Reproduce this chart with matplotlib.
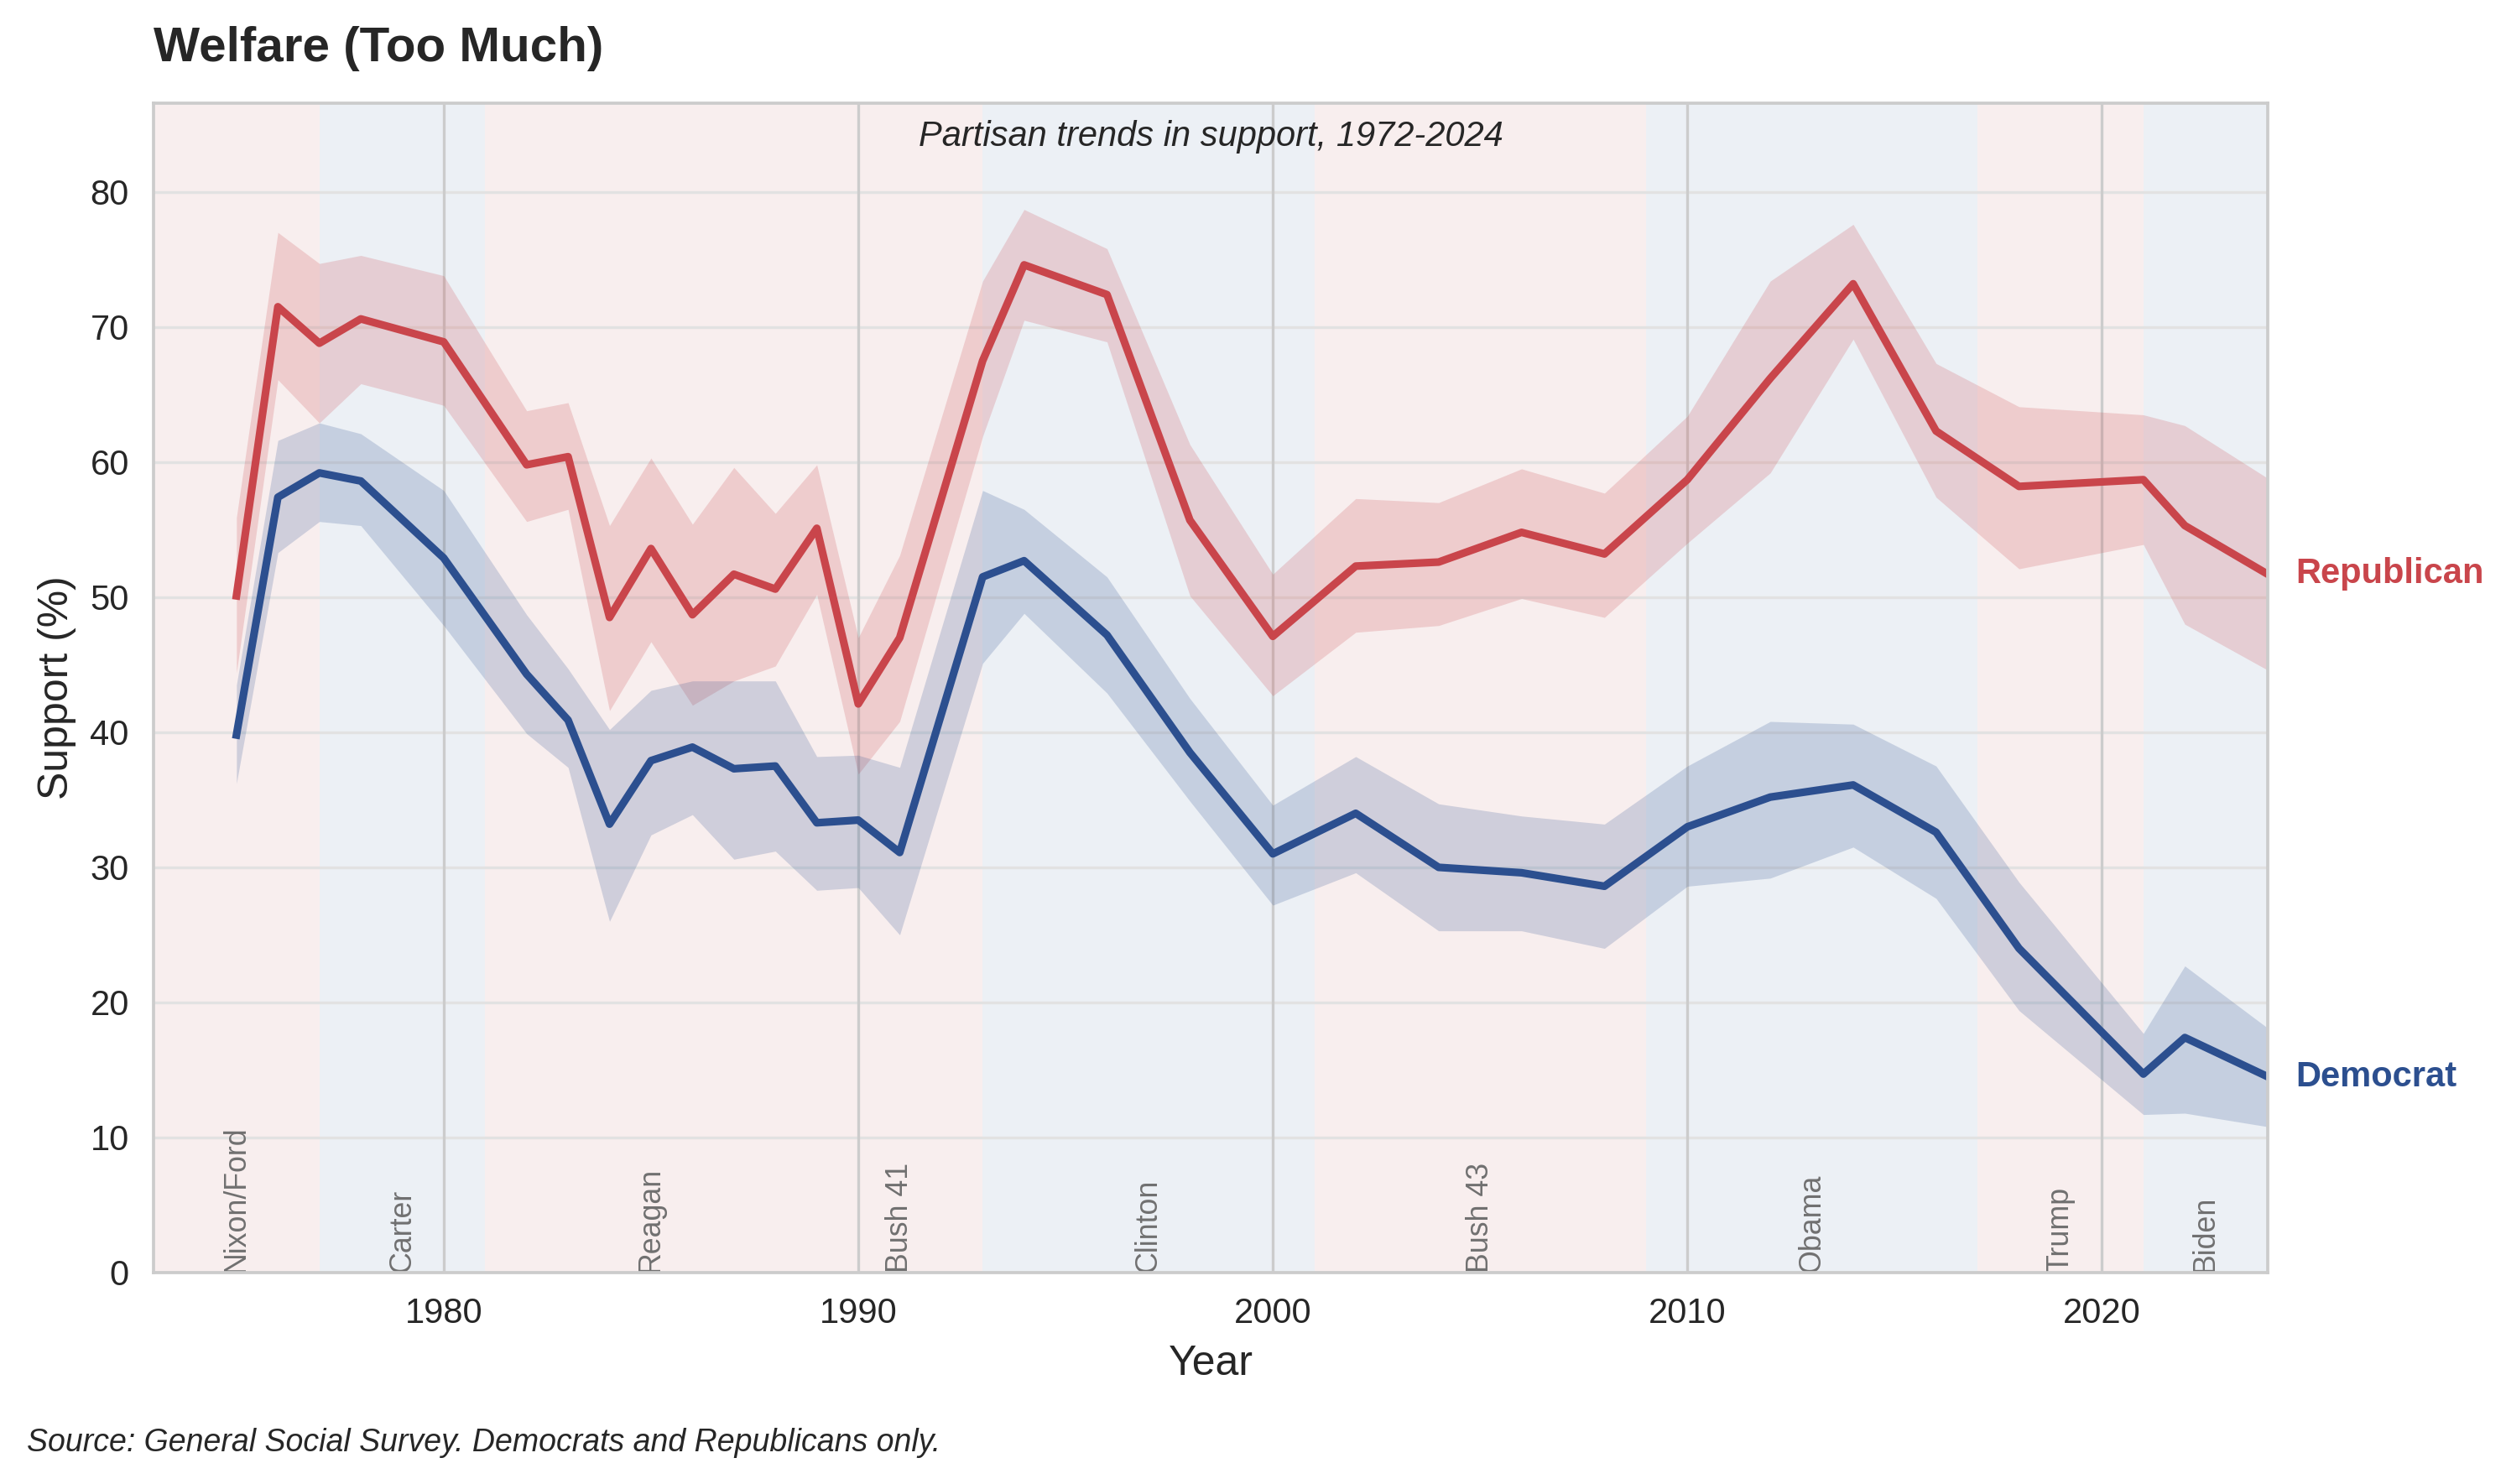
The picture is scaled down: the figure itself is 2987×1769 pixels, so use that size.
import matplotlib
matplotlib.use("Agg")
import matplotlib.pyplot as plt
import matplotlib.transforms as mtransforms

plt.rcParams['font.family'] = ['Liberation Sans', 'DejaVu Sans']

# ---------------- data ----------------
years = [1975, 1976, 1977, 1978, 1980, 1982, 1983, 1984, 1985, 1986, 1987, 1988,
         1989, 1990, 1991, 1993, 1994, 1996, 1998, 2000, 2002, 2004, 2006, 2008,
         2010, 2012, 2014, 2016, 2018, 2021, 2022, 2024]

rep = [50.1, 71.5, 68.8, 70.6, 68.9, 59.8, 60.4, 48.5, 53.6, 48.7, 51.7, 50.6,
       55.1, 42.1, 47.0, 67.5, 74.6, 72.4, 55.7, 47.1, 52.3, 52.6, 54.8, 53.2,
       58.7, 66.2, 73.2, 62.3, 58.2, 58.7, 55.3, 51.7]
rep_lo = [44.4, 66.1, 62.9, 65.8, 64.2, 55.6, 56.5, 41.6, 46.7, 42.0, 43.8, 44.9,
          50.2, 36.9, 40.8, 61.9, 70.5, 68.9, 50.1, 42.7, 47.4, 47.9, 49.9, 48.5,
          54.0, 59.2, 69.1, 57.4, 52.1, 53.9, 48.0, 44.6]
rep_hi = [55.9, 77.0, 74.7, 75.3, 73.8, 63.8, 64.4, 55.3, 60.3, 55.4, 59.6, 56.2,
          59.8, 47.0, 53.1, 73.4, 78.7, 75.8, 61.3, 51.7, 57.3, 57.0, 59.5, 57.7,
          63.4, 73.4, 77.6, 67.3, 64.1, 63.5, 62.7, 58.8]

dem = [39.8, 57.4, 59.2, 58.6, 52.9, 44.3, 40.9, 33.2, 37.9, 38.9, 37.3, 37.5,
       33.3, 33.5, 31.1, 51.5, 52.7, 47.2, 38.5, 31.0, 34.0, 30.0, 29.6, 28.6,
       33.0, 35.2, 36.1, 32.6, 24.0, 14.7, 17.4, 14.5]
dem_lo = [36.2, 53.3, 55.6, 55.3, 47.9, 39.9, 37.4, 26.0, 32.4, 33.9, 30.6, 31.2,
          28.3, 28.5, 25.0, 45.1, 48.8, 42.9, 34.9, 27.2, 29.6, 25.3, 25.3, 24.0,
          28.6, 29.2, 31.5, 27.7, 19.4, 11.7, 11.8, 10.8]
dem_hi = [43.5, 61.6, 62.9, 62.1, 57.9, 48.7, 44.7, 40.2, 43.1, 43.8, 43.8, 43.8,
          38.2, 38.3, 37.4, 57.9, 56.5, 51.5, 42.5, 34.6, 38.2, 34.7, 33.8, 33.2,
          37.5, 40.8, 40.6, 37.5, 28.9, 17.7, 22.7, 18.1]

pres_start = [1969, 1977, 1981, 1989, 1993, 2001, 2009, 2017, 2021]
pres_end = [1977, 1981, 1989, 1993, 2001, 2009, 2017, 2021, 2025]
pres_name = ['Nixon/Ford', 'Carter', 'Reagan', 'Bush 41', 'Clinton', 'Bush 43',
             'Obama', 'Trump', 'Biden']
pres_party = ['R', 'D', 'R', 'R', 'D', 'R', 'D', 'R', 'D']

x_ticks = [1980, 1990, 2000, 2010, 2020]
y_ticks = [0, 10, 20, 30, 40, 50, 60, 70, 80]

# ---------------- style ----------------
RED = '#c9454b'
BLUE = '#2c4f8f'
SPAN_R = '#f8eeee'
SPAN_D = '#ecf0f5'
TXT = '#262626'

W, H, DPI = 2987, 1769, 300
fig = plt.figure(figsize=(W / DPI, H / DPI), dpi=DPI)
ax = fig.add_axes([183 / W, 1 - 1517 / H, (2703 - 183) / W, (1517 - 123) / H])

xmin, xmax = 1973, 2024
ymax = max(rep_hi) * 1.1

# presidential shading
for s, e, p in zip(pres_start, pres_end, pres_party):
    ax.axvspan(s, e, color=SPAN_R if p == 'R' else SPAN_D, lw=0, zorder=0)

# grid
for yt in y_ticks:
    ax.axhline(yt, color='#e2e2e2', lw=0.8, zorder=0.5)
for xt in x_ticks:
    ax.axvline(xt, color='#cccccc', lw=0.8, zorder=0.6)

# bands & lines
ax.fill_between(years, rep_lo, rep_hi, color=RED, alpha=0.2, lw=0, zorder=1)
ax.fill_between(years, dem_lo, dem_hi, color=BLUE, alpha=0.2, lw=0, zorder=1)
ax.plot(years, rep, color=RED, lw=2.2, zorder=3, solid_joinstyle='round')
ax.plot(years, dem, color=BLUE, lw=2.2, zorder=3, solid_joinstyle='round')

ax.set_xlim(xmin, xmax)
ax.set_ylim(0, ymax)
ax.set_xticks(x_ticks)
ax.set_yticks(y_ticks)
ax.tick_params(axis='both', length=0, pad=7, labelsize=10, labelcolor=TXT)

for sp in ax.spines.values():
    sp.set_color('#cccccc')
    sp.set_linewidth(0.9)
    sp.set_zorder(5)

# president labels
trans = mtransforms.blended_transform_factory(ax.transData, ax.transAxes)
for s, e, n in zip(pres_start, pres_end, pres_name):
    mid = (max(s, xmin) + min(e, xmax)) / 2
    ax.text(mid, 0.0, n, transform=trans, rotation=90, ha='center', va='bottom',
            fontsize=8.6, color='#707070', zorder=4)

# end labels
ax.annotate('Republican', xy=(years[-1], rep[-1]), xytext=(8, 0),
            textcoords='offset points', ha='left', va='center',
            fontsize=10, fontweight='bold', color=RED, annotation_clip=False)
ax.annotate('Democrat', xy=(years[-1], dem[-1]), xytext=(8, 0),
            textcoords='offset points', ha='left', va='center',
            fontsize=10, fontweight='bold', color=BLUE, annotation_clip=False)

ax.set_xlabel('Year', fontsize=12, color=TXT, labelpad=4)
ax.set_ylabel('Support (%)', fontsize=12, color=TXT, labelpad=4)

ax.text(0.5, 0.986, 'Partisan trends in support, 1972-2024', transform=ax.transAxes,
        ha='center', va='top', fontsize=10, style='italic', color=TXT)

fig.text(183 / W, 1 - 73 / H, 'Welfare (Too Much)', ha='left', va='baseline',
         fontsize=14, fontweight='bold', color=TXT)
fig.text(32 / W, 1 - 1730 / H,
         'Source: General Social Survey. Democrats and Republicans only.',
         ha='left', va='baseline', fontsize=9, style='italic', color=TXT)

fig.savefig('out.png', dpi=DPI)
